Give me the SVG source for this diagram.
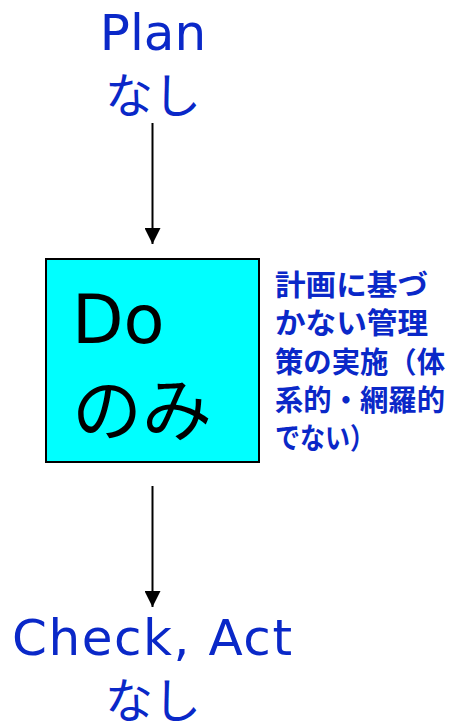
<svg xmlns="http://www.w3.org/2000/svg" width="452" height="725" viewBox="0 0 452 725">
<style>
.lbl{fill:#0a28c8;font-family:"DejaVu Sans","Noto Sans CJK JP",sans-serif;font-size:50px;text-anchor:middle}
.jp{fill:#0a28c8;font-family:"Noto Sans CJK JP",sans-serif;font-size:48px;text-anchor:middle}
.note{fill:#0a28c8;font-family:"Noto Sans CJK JP",sans-serif;font-size:29px;font-weight:bold}
.edge{stroke:#000;stroke-width:2;fill:none}
</style>
<defs>
<marker id="ah" markerWidth="16" markerHeight="16" viewBox="0 0 16 16" refX="16" refY="8" orient="auto" markerUnits="userSpaceOnUse">
<path d="M0,0 L16,8 L0,16 Z" fill="#000"/>
</marker>
</defs>
<rect width="452" height="725" fill="#fff"/>
<g id="plan">
<text class="lbl" x="153" y="50">Plan</text>
<text class="jp" x="153" y="113">なし</text>
</g>
<g id="do">
<rect x="46" y="259" width="213" height="203" fill="#00ffff" stroke="#000" stroke-width="2"/>
<text x="72" y="343" font-family="DejaVu Sans, sans-serif" font-size="67" fill="#000">Do</text>
<text x="72" y="436" font-family="Noto Sans CJK JP, sans-serif" font-size="70" fill="#000">のみ</text>
</g>
<g id="note">
<text class="note" x="275" y="296" textLength="153" lengthAdjust="spacingAndGlyphs">計画に基づ</text>
<text class="note" x="275" y="334" textLength="153" lengthAdjust="spacingAndGlyphs">かない管理</text>
<text class="note" x="275" y="373" textLength="170" lengthAdjust="spacingAndGlyphs">策の実施（体</text>
<text class="note" x="275" y="411" textLength="170" lengthAdjust="spacingAndGlyphs">系的・網羅的</text>
<text class="note" x="275" y="449" textLength="100" lengthAdjust="spacingAndGlyphs">でない）</text>
</g>
<g id="checkact">
<text class="lbl" x="152" y="655" textLength="280" lengthAdjust="spacing">Check, Act</text>
<text class="jp" x="153" y="718">なし</text>
</g>
<g id="connectors">
<line class="edge" x1="152.5" y1="123" x2="152.5" y2="244" marker-end="url(#ah)"/>
<line class="edge" x1="152.5" y1="486" x2="152.5" y2="607" marker-end="url(#ah)"/>
</g>
</svg>
